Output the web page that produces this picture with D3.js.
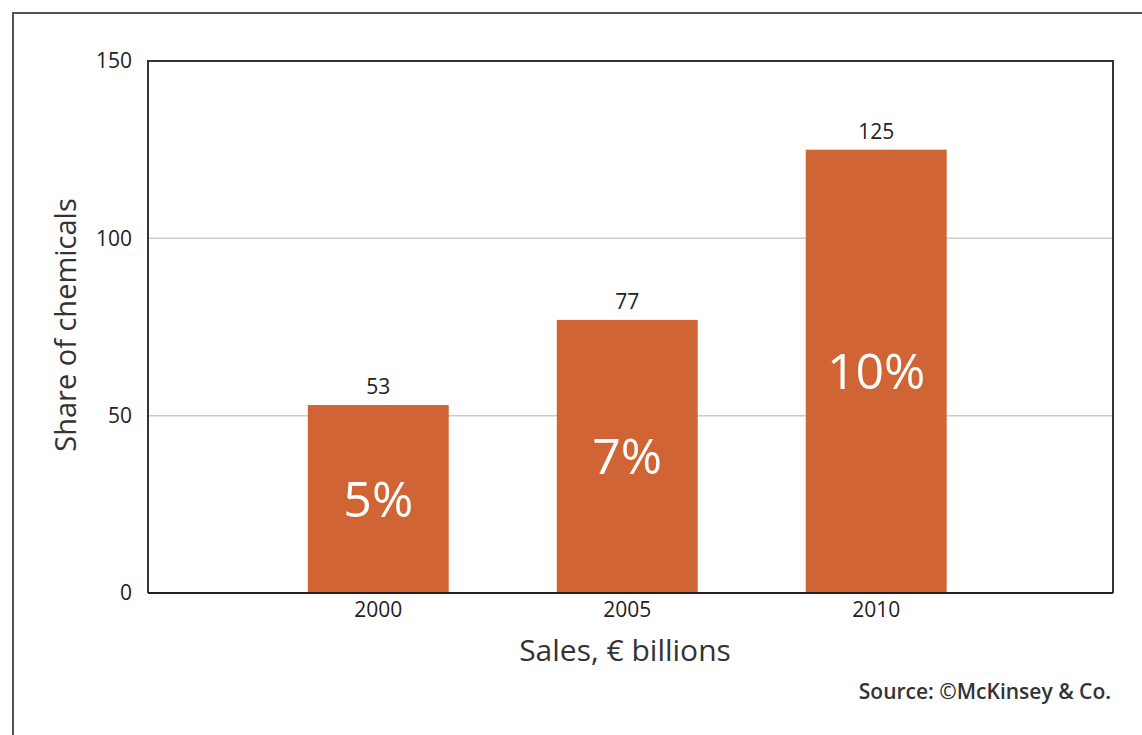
<!DOCTYPE html>
<html>
<head>
<meta charset="utf-8">
<script src="https://cdn.jsdelivr.net/npm/d3@7"></script>
<style>
  body { margin: 0; background: #fff; }
  svg { display: block; font-family: 'Open Sans', sans-serif; }
</style>
</head>
<body>
<div id="chart"></div>
<script>
const years = ['2000', '2005', '2010']
const sales = [53, 77, 125]
const shares = ['5%', '7%', '10%']
const yTicks = [0, 50, 100, 150]

const width = 1142
const height = 735
const margin = { left: 148, top: 61, right: 29, bottom: 142 }

const svg = d3
  .select('#chart')
  .append('svg')
  .attr('width', width)
  .attr('height', height)

// outer frame
svg
  .append('path')
  .attr('d', `M${width + 5},13 H13 V${height + 5}`)
  .attr('fill', 'none')
  .attr('stroke', '#555')
  .attr('stroke-width', 2)

const xScale = d3
  .scaleBand()
  .domain(years)
  .range([margin.left, width - margin.right])
  .paddingInner(0.434)
  .paddingOuter(0.655)
  .align(0.49)

const yScale = d3
  .scaleLinear()
  .domain([0, 150])
  .range([height - margin.bottom, margin.top])

// gridlines
yTicks
  .filter(t => t > 0 && t < 150)
  .forEach(t => {
    svg
      .append('line')
      .attr('x1', margin.left)
      .attr('x2', width - margin.right)
      .attr('y1', yScale(t))
      .attr('y2', yScale(t))
      .attr('stroke', '#cccccc')
      .attr('stroke-width', 1.5)
  })

// bars
svg
  .append('g')
  .selectAll('rect')
  .data(sales)
  .join('rect')
  .attr('x', (d, i) => xScale(years[i]))
  .attr('width', xScale.bandwidth())
  .attr('y', d => yScale(d))
  .attr('height', d => yScale(0) - yScale(d))
  .attr('fill', '#d06434')

// value labels above bars
svg
  .append('g')
  .selectAll('text')
  .data(sales)
  .join('text')
  .attr('x', (d, i) => xScale(years[i]) + xScale.bandwidth() / 2)
  .attr('y', d => yScale(d) - 11)
  .attr('text-anchor', 'middle')
  .attr('font-size', 21)
  .attr('fill', '#222')
  .text(d => d)

// share labels inside bars
svg
  .append('g')
  .selectAll('text')
  .data(sales)
  .join('text')
  .attr('x', (d, i) => xScale(years[i]) + xScale.bandwidth() / 2)
  .attr('y', d => yScale(d / 2))
  .attr('dy', '0.35em')
  .attr('text-anchor', 'middle')
  .attr('font-size', 50)
  .attr('fill', '#fff')
  .text((d, i) => shares[i])

// plot frame
svg
  .append('path')
  .attr(
    'd',
    `M${margin.left},${height - margin.bottom} V${margin.top} H${
      width - margin.right
    } V${height - margin.bottom}`,
  )
  .attr('fill', 'none')
  .attr('stroke', '#333')
  .attr('stroke-width', 2)

svg
  .append('line')
  .attr('x1', margin.left)
  .attr('x2', width - margin.right)
  .attr('y1', yScale(0))
  .attr('y2', yScale(0))
  .attr('stroke', '#222')
  .attr('stroke-width', 2)

// y axis
const yAxis = d3.axisLeft(yScale).tickValues(yTicks).tickSize(0).tickPadding(16)
const yAxisG = svg
  .append('g')
  .attr('transform', `translate(${margin.left},0)`)
  .call(yAxis)
yAxisG.select('.domain').remove()
yAxisG
  .selectAll('text')
  .attr('font-size', 21)
  .attr('font-family', "'Open Sans', sans-serif")
  .attr('fill', '#222')

// x axis
const xAxis = d3.axisBottom(xScale).tickSize(0).tickPadding(9)
const xAxisG = svg
  .append('g')
  .attr('transform', `translate(0,${yScale(0)})`)
  .call(xAxis)
xAxisG.select('.domain').remove()
xAxisG
  .selectAll('text')
  .attr('font-size', 21)
  .attr('font-family', "'Open Sans', sans-serif")
  .attr('fill', '#222')

// axis titles
svg
  .append('text')
  .attr('transform', `translate(76, ${(margin.top + yScale(0)) / 2 - 2}) rotate(-90)`)
  .attr('text-anchor', 'middle')
  .attr('font-size', 29)
  .attr('fill', '#333')
  .text('Share of chemicals')

svg
  .append('text')
  .attr('x', 625)
  .attr('y', 661)
  .attr('text-anchor', 'middle')
  .attr('font-size', 30)
  .attr('fill', '#333')
  .text('Sales, € billions')

svg
  .append('text')
  .attr('x', 1111)
  .attr('y', 699)
  .attr('text-anchor', 'end')
  .attr('font-size', 21)
  .attr('font-weight', 600)
  .attr('fill', '#333')
  .text('Source: ©McKinsey & Co.')
</script>
</body>
</html>
